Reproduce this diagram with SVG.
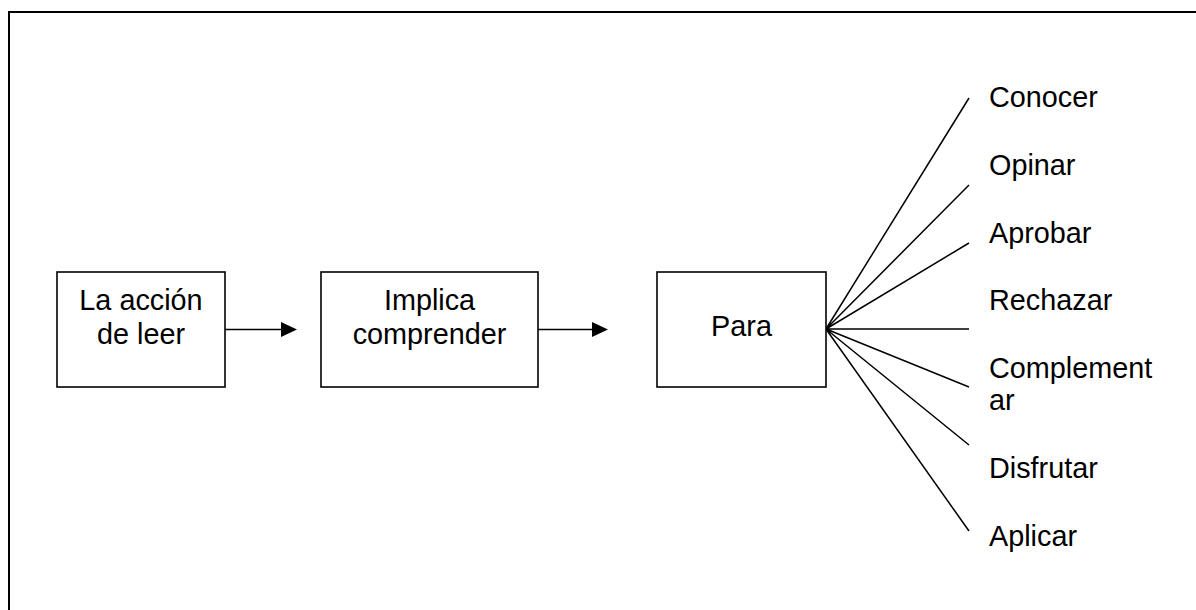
<svg xmlns="http://www.w3.org/2000/svg" width="1196" height="610" viewBox="0 0 1196 610">
<style>
.box{fill:#fff;stroke:#000;stroke-width:1.6}
.ln{stroke:#000;stroke-width:1.5;fill:none}
.t{font-family:"Liberation Sans",Arial,sans-serif;font-size:28.8px;fill:#000}
.c{text-anchor:middle}
</style>
<rect width="1196" height="610" fill="#fff"/>
<path d="M9,612 L9,12 L1198,12" fill="none" stroke="#000" stroke-width="2"/>
<g id="connectors">
<path class="ln" d="M225,329.5 L285,329.5 M538,329.5 L597,329.5"/>
<path d="M281,322 L297,329.5 L281,337 Z M592,322 L608,329.5 L592,337 Z" fill="#000"/>
<path class="ln" d="M826,329 L969,98 M826,329 L969,185 M826,329 L969,243 M826,329 L969,329 M826,329 L969,387 M826,329 L969,445 M826,329 L969,531"/>
</g>
<g id="n1">
<rect class="box" x="57" y="272" width="168" height="115"/>
<text class="t c" x="141" y="310">La acción</text>
<text class="t c" x="141" y="344">de leer</text>
</g>
<g id="n2">
<rect class="box" x="321" y="272" width="217" height="115"/>
<text class="t c" x="429.5" y="310">Implica</text>
<text class="t c" x="429.5" y="344">comprender</text>
</g>
<g id="n3">
<rect class="box" x="657" y="272" width="169" height="115"/>
<text class="t c" x="741.5" y="336">Para</text>
</g>
<g id="n4"><text class="t" x="989" y="107">Conocer</text></g>
<g id="n5"><text class="t" x="989" y="175">Opinar</text></g>
<g id="n6"><text class="t" x="989" y="243">Aprobar</text></g>
<g id="n7"><text class="t" x="989" y="309.5">Rechazar</text></g>
<g id="n8"><text class="t" x="989" y="377.5">Complement</text><text class="t" x="989" y="410">ar</text></g>
<g id="n9"><text class="t" x="989" y="477.5">Disfrutar</text></g>
<g id="n10"><text class="t" x="989" y="546">Aplicar</text></g>
</svg>
